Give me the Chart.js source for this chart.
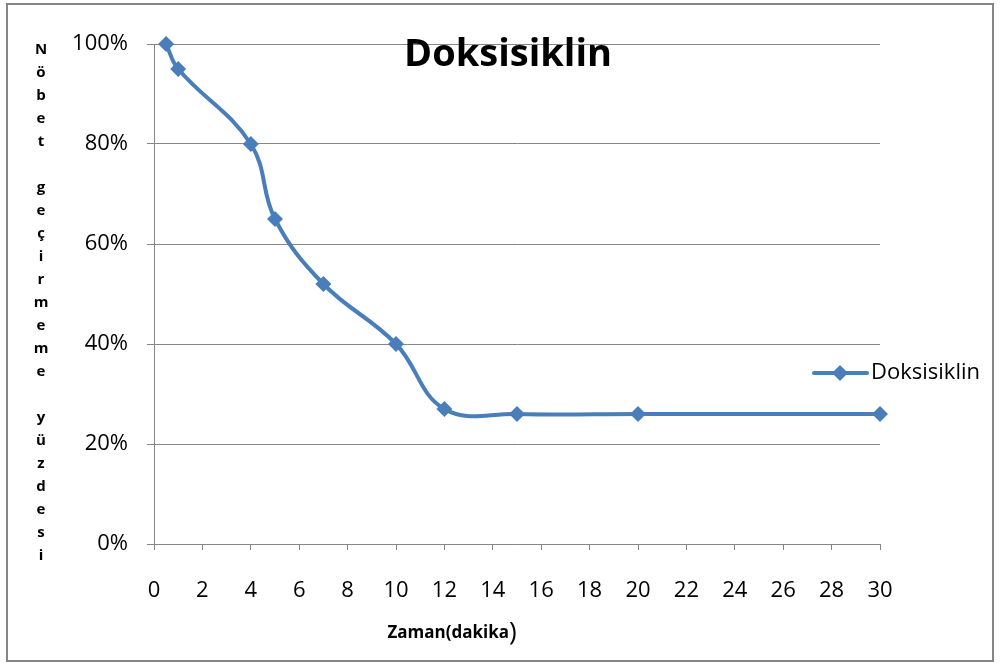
<!DOCTYPE html>
<html>
<head>
<meta charset="utf-8">
<script src="https://cdn.jsdelivr.net/npm/chart.js@4/dist/chart.umd.min.js"></script>
<style>
  html, body { margin: 0; padding: 0; background: #fff; }
  #wrap { width: 1001px; height: 664px; }
</style>
</head>
<body>
<div id="wrap"><canvas id="c" width="1001" height="664"></canvas></div>
<script>
// Time in minutes and share of animals without seizures (%)
const minutes = [0.5, 1, 4, 5, 7, 10, 12, 15, 20, 30];
const seizureFreePct = [100, 95, 80, 65, 52, 40, 27, 26, 26, 26];
const seriesName = 'Doksisiklin';
const chartTitle = 'Doksisiklin';
const xAxisTitle = 'Zaman(dakika';
const xAxisTitleClose = ')';
const yAxisTitle = 'Nöbet geçirmeme yüzdesi';

const BLUE = '#4a7ebb';
const GRAY = '#868686';
const FONT = '"Open Sans", "Liberation Sans", sans-serif';

const points = minutes.map((m, i) => ({ x: m, y: seizureFreePct[i] }));

// Outer frame, title, axis titles and the legend entry
const decorations = {
  id: 'decorations',
  beforeDraw(chart) {
    const ctx = chart.ctx;
    ctx.save();
    ctx.fillStyle = '#fff';
    ctx.fillRect(0, 0, chart.width, chart.height);
    ctx.strokeStyle = GRAY;
    ctx.lineWidth = 2;
    ctx.strokeRect(7, 4, 986, 657);
    ctx.restore();
  },
  afterDraw(chart) {
    const ctx = chart.ctx;
    ctx.save();
    ctx.fillStyle = '#000';

    // chart title
    ctx.font = 'bold 38px ' + FONT;
    ctx.textAlign = 'center';
    ctx.textBaseline = 'middle';
    ctx.fillText(chartTitle, 508, 55);

    // y axis title, one letter per line
    ctx.font = 'bold 15px ' + FONT;
    ctx.textAlign = 'center';
    ctx.textBaseline = 'middle';
    const letters = Array.from(yAxisTitle);
    letters.forEach((ch, i) => {
      if (ch !== ' ') ctx.fillText(ch, 41, 50 + i * 23);
    });

    // x axis title with the larger closing bracket
    ctx.textBaseline = 'alphabetic';
    ctx.textAlign = 'left';
    ctx.font = 'bold 17px ' + FONT;
    const w1 = ctx.measureText(xAxisTitle).width;
    ctx.font = '26px ' + FONT;
    const w2 = ctx.measureText(xAxisTitleClose).width;
    const x0 = 452 - (w1 + w2) / 2;
    ctx.font = 'bold 17px ' + FONT;
    ctx.fillText(xAxisTitle, x0, 638);
    ctx.font = '26px ' + FONT;
    ctx.fillText(xAxisTitleClose, x0 + w1, 640);

    // legend entry
    const ly = 373;
    ctx.strokeStyle = BLUE;
    ctx.lineWidth = 4;
    ctx.lineCap = 'round';
    ctx.beginPath();
    ctx.moveTo(814, ly);
    ctx.lineTo(867, ly);
    ctx.stroke();
    ctx.fillStyle = BLUE;
    ctx.beginPath();
    ctx.moveTo(840, ly - 8);
    ctx.lineTo(848, ly);
    ctx.lineTo(840, ly + 8);
    ctx.lineTo(832, ly);
    ctx.closePath();
    ctx.fill();
    ctx.fillStyle = '#000';
    ctx.font = '22px ' + FONT;
    ctx.textAlign = 'left';
    ctx.textBaseline = 'middle';
    ctx.fillText(seriesName, 871, ly);
    ctx.restore();
  }
};

new Chart(document.getElementById('c'), {
  type: 'line',
  data: {
    datasets: [{
      label: seriesName,
      data: points,
      borderColor: BLUE,
      backgroundColor: BLUE,
      borderWidth: 4,
      tension: 0.4,
      pointStyle: 'rectRot',
      pointRadius: 8,
      pointHoverRadius: 8,
      pointBorderWidth: 0,
      clip: false,
      fill: false
    }]
  },
  options: {
    responsive: false,
    animation: false,
    events: [],
    layout: { padding: { left: 0, right: 121, top: 44, bottom: 0 } },
    plugins: {
      legend: { display: false },
      title: { display: false },
      tooltip: { enabled: false }
    },
    scales: {
      x: {
        type: 'linear',
        min: 0,
        max: 30,
        ticks: {
          stepSize: 2,
          color: '#000',
          font: { family: FONT, size: 22 },
          padding: 28,
          maxRotation: 0
        },
        grid: { drawOnChartArea: false, drawTicks: true, tickLength: 6, color: GRAY },
        border: { display: true, color: GRAY, width: 1 },
        afterFit(scale) { scale.height = 120; }
      },
      y: {
        type: 'linear',
        min: 0,
        max: 100,
        ticks: {
          stepSize: 20,
          color: '#000',
          font: { family: FONT, size: 22 },
          padding: 19,
          callback: v => v + '%'
        },
        grid: { drawOnChartArea: true, drawTicks: true, tickLength: 7, color: GRAY },
        border: { display: true, color: GRAY, width: 1 },
        afterFit(scale) { scale.width = 154; }
      }
    }
  },
  plugins: [decorations]
});
</script>
</body>
</html>
